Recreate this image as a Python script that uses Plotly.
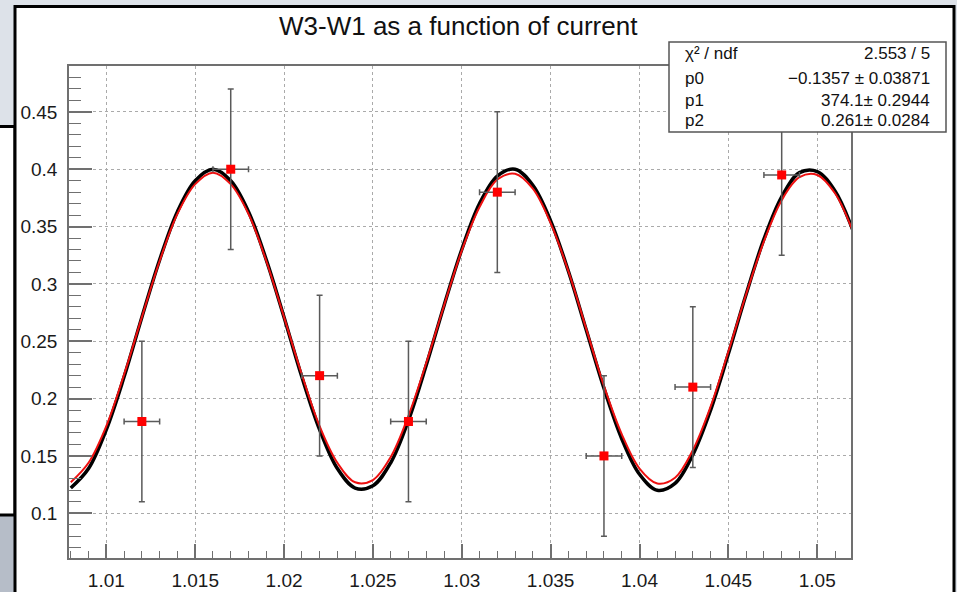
import plotly.graph_objects as go

# ---------------- data ----------------
curve_x = [1.008, 1.009, 1.010, 1.011, 1.012, 1.013, 1.014, 1.015, 1.016, 1.017,
           1.018, 1.019, 1.020, 1.021, 1.022, 1.023, 1.024, 1.025, 1.026, 1.027,
           1.028, 1.029, 1.030, 1.031, 1.032, 1.033, 1.034, 1.035, 1.036, 1.037,
           1.038, 1.039, 1.040, 1.041, 1.042, 1.043, 1.044, 1.045, 1.046, 1.047,
           1.048, 1.049, 1.050, 1.051, 1.052]
black_y = [0.122, 0.139, 0.173, 0.219, 0.271, 0.321, 0.363, 0.390, 0.400, 0.390,
           0.363, 0.321, 0.271, 0.219, 0.173, 0.139, 0.122, 0.124, 0.144, 0.181,
           0.229, 0.281, 0.330, 0.370, 0.394, 0.400, 0.386, 0.355, 0.311, 0.260,
           0.209, 0.165, 0.134, 0.120, 0.126, 0.151, 0.190, 0.239, 0.291, 0.339,
           0.376, 0.397, 0.398, 0.381, 0.347]
fit_y = [0.127, 0.144, 0.176, 0.221, 0.271, 0.320, 0.361, 0.387, 0.397, 0.387,
         0.361, 0.320, 0.271, 0.221, 0.176, 0.144, 0.127, 0.129, 0.149, 0.185,
         0.231, 0.281, 0.329, 0.367, 0.391, 0.396, 0.383, 0.353, 0.311, 0.261,
         0.211, 0.169, 0.139, 0.126, 0.131, 0.155, 0.193, 0.241, 0.291, 0.337,
         0.373, 0.393, 0.395, 0.379, 0.346]

meas_x = [1.012, 1.017, 1.022, 1.027, 1.032, 1.038, 1.043, 1.048]
meas_y = [0.18, 0.40, 0.22, 0.18, 0.38, 0.15, 0.21, 0.395]
meas_xerr = [0.001] * 8
meas_yerr = [0.07] * 8

x_tickvals = [1.010, 1.015, 1.020, 1.025, 1.030, 1.035, 1.040, 1.045, 1.050]
x_ticktext = ["1.01", "1.015", "1.02", "1.025", "1.03", "1.035", "1.04", "1.045", "1.05"]
y_tickvals = [0.10, 0.15, 0.20, 0.25, 0.30, 0.35, 0.40, 0.45]
y_ticktext = ["0.1", "0.15", "0.2", "0.25", "0.3", "0.35", "0.4", "0.45"]

title_text = "W3-W1 as a function of current"
stat_labels = ["χ² / ndf", "p0", "p1", "p2"]
stat_values = ["2.553 / 5", "\u22120.1357 ± 0.03871", "374.1± 0.2944", "0.261± 0.0284"]

# ---------------- layout geometry ----------------
W, H = 957, 592
L, T, R, B = 69, 66, 851, 558
PW, PH = R - L, B - T


def px(x):
    return (x - L) / PW


def py(y):
    return (B - y) / PH


FONT = "Liberation Sans, Arial, Helvetica, sans-serif"
AX = "#707070"

fig = go.Figure()
fig.add_trace(go.Scatter(x=curve_x, y=black_y, mode="lines",
                         line=dict(color="#000000", width=3.5, shape="spline"),
                         showlegend=False, hoverinfo="skip"))
fig.add_trace(go.Scatter(x=curve_x, y=fit_y, mode="lines",
                         line=dict(color="#ee1010", width=2, shape="spline"),
                         showlegend=False, hoverinfo="skip"))
fig.add_trace(go.Scatter(x=meas_x, y=meas_y, mode="markers",
                         marker=dict(symbol="square", size=9, color="#ff0000"),
                         error_y=dict(type="data", array=meas_yerr, color="#5a5a5a",
                                      thickness=1.5, width=3),
                         error_x=dict(type="data", array=meas_xerr, color="#5a5a5a",
                                      thickness=1.5, width=3),
                         showlegend=False))

shapes = [
    # bottom-left darker background piece
    dict(type="rect", xref="paper", yref="paper", layer="below",
         x0=px(-5), x1=px(15), y0=py(516), y1=py(600),
         fillcolor="#b6bdc8", line=dict(width=0)),
    # left background window
    dict(type="rect", xref="paper", yref="paper", layer="below",
         x0=px(-5), x1=px(15), y0=py(515), y1=py(126.5),
         fillcolor="white", line=dict(color="black", width=3)),
    # main canvas
    dict(type="rect", xref="paper", yref="paper", layer="below",
         x0=px(15), x1=px(954), y0=py(640), y1=py(6.5),
         fillcolor="white", line=dict(color="black", width=3)),
    # stats box
    dict(type="rect", xref="paper", yref="paper", layer="above",
         x0=px(669), x1=px(946), y0=py(132), y1=py(42),
         fillcolor="white", line=dict(color="#555555", width=1.5)),
]

annotations = [
    dict(text=title_text, xref="paper", yref="paper", x=px(458), y=py(26),
         xanchor="center", yanchor="middle", showarrow=False,
         font=dict(family=FONT, size=26, color="#111111")),
]
row_y = [54, 79, 100, 120]
for lab, val, ry in zip(stat_labels, stat_values, row_y):
    annotations.append(dict(text=lab, xref="paper", yref="paper", x=px(683), y=py(ry),
                            xanchor="left", yanchor="middle", showarrow=False,
                            font=dict(family=FONT, size=17, color="#111111")))
    annotations.append(dict(text=val, xref="paper", yref="paper", x=px(932), y=py(ry),
                            xanchor="right", yanchor="middle", showarrow=False,
                            font=dict(family=FONT, size=17, color="#111111")))

fig.update_layout(
    width=W, height=H,
    margin=dict(l=L, r=W - R, t=T, b=H - B, pad=0, autoexpand=False),
    paper_bgcolor="#dde2e9",
    plot_bgcolor="white",
    shapes=shapes,
    annotations=annotations,
    showlegend=False,
    xaxis=dict(range=[1.0079, 1.0519], tickmode="array", tickvals=x_tickvals,
               ticktext=x_ticktext, showline=True, linecolor=AX, linewidth=1.5,
               mirror=True, ticks="inside", ticklen=14, tickwidth=1.5, tickcolor=AX,
               showgrid=True, gridcolor="#aaaaaa", griddash="dot", gridwidth=1,
               zeroline=False, ticklabelstandoff=4, automargin=False,
               tickfont=dict(family=FONT, size=19, color="#1a1a1a"),
               minor=dict(tickmode="linear", tick0=1.0, dtick=0.001, ticks="inside",
                          ticklen=7, tickwidth=1.2, tickcolor=AX, showgrid=False)),
    yaxis=dict(range=[0.061, 0.49], tickmode="array", tickvals=y_tickvals,
               ticktext=y_ticktext, showline=True, linecolor=AX, linewidth=1.5,
               mirror=True, ticks="inside", ticklen=23, tickwidth=1.5, tickcolor=AX,
               showgrid=True, gridcolor="#aaaaaa", griddash="dot", gridwidth=1,
               zeroline=False, ticklabelstandoff=6, automargin=False,
               tickfont=dict(family=FONT, size=19, color="#1a1a1a"),
               minor=dict(tickmode="linear", tick0=0.0, dtick=0.01, ticks="inside",
                          ticklen=12, tickwidth=1.2, tickcolor=AX, showgrid=False)),
)

fig.write_html("out.html")
